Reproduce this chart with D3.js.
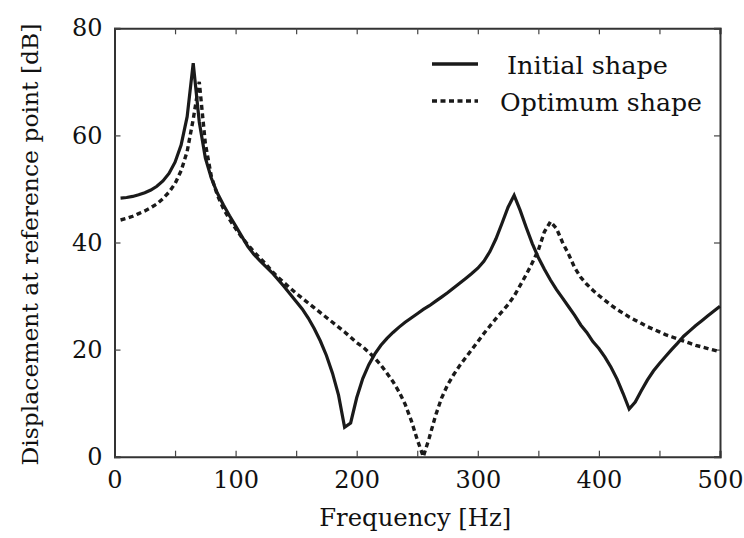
<!DOCTYPE html>
<html lang="en">
<head>
  <meta charset="UTF-8">
  <title>Displacement vs frequency</title>
  <script src="https://d3js.org/d3.v7.min.js"></script>
  <style>
    body { margin: 0; background: #fff; }
  </style>
</head>
<body>
  <svg width="744" height="538"></svg>

  <script>
    // frequency samples (Hz), 5 Hz step
    const freq = d3.range(5, 501, 5);

    const initialShape = [
      48.3, 48.4, 48.6, 48.9, 49.3, 49.8, 50.5, 51.5, 52.9, 55.0,
      58.2, 63.5, 73.5, 62.5, 55.8, 52.0, 49.2, 47.0, 45.0, 43.1,
      41.2, 39.3, 37.8, 36.6, 35.5, 34.4, 33.1, 31.8, 30.4, 29.0,
      27.6, 25.9, 23.9, 21.6, 18.9, 15.6, 11.5, 5.5, 6.3, 11.0,
      14.6, 17.2, 19.2, 20.8, 22.1, 23.2, 24.2, 25.1, 25.9, 26.7,
      27.5, 28.2, 29.0, 29.8, 30.6, 31.5, 32.4, 33.3, 34.2, 35.2,
      36.5, 38.3, 40.7, 43.6, 46.6, 48.8, 46.0, 42.8, 39.8, 37.2,
      35.0, 33.0, 31.2, 29.6, 28.0, 26.4, 24.6, 23.2, 21.5, 20.2,
      18.6, 16.7, 14.5, 11.8, 8.9, 10.2, 12.3, 14.3, 16.0, 17.4,
      18.7, 20.0, 21.2, 22.5, 23.5, 24.5, 25.4, 26.3, 27.2, 28.1
    ];

    const optimumShape = [
      44.2, 44.5, 44.9, 45.4, 45.9, 46.5, 47.2, 48.2, 49.4, 51.0,
      53.4, 57.0, 63.0, 70.0, 58.5, 52.3, 48.8, 46.3, 44.3, 42.6,
      41.0, 39.6, 38.3, 37.1, 36.0, 34.6, 33.5, 32.5, 31.5, 30.5,
      29.6, 28.7, 27.8, 26.9, 26.0, 25.1, 24.2, 23.3, 22.3, 21.3,
      20.5, 19.5, 18.4, 17.1, 15.6, 14.0, 12.1, 9.8, 6.8, 3.2,
      0.0, 3.6, 7.6, 10.9, 13.4, 15.3, 17.0, 18.5, 20.0, 21.5,
      23.0, 24.4, 25.8, 27.1, 28.4, 30.0, 32.0, 34.0, 36.2, 38.6,
      42.0, 43.9, 42.6, 40.0, 37.8, 35.3, 33.5, 32.2, 31.1, 30.1,
      29.2, 28.3, 27.5, 26.8, 26.1, 25.5, 24.9, 24.3, 23.8, 23.3,
      22.8, 22.4, 22.0, 21.6, 21.2, 20.8, 20.5, 20.2, 19.9, 19.6
    ];

    const xTicks = [0, 100, 200, 300, 400, 500];
    const xMinorTicks = [50, 150, 250, 350, 450];
    const yTicks = [0, 20, 40, 60, 80];

    const legendLabels = ["Initial shape", "Optimum shape"];

    const serif = "DejaVu Serif";

    const svg = d3.select("svg").style("font-family", serif);
    const margin = { left: 114.5, top: 28.3, right: 24, bottom: 81.3 };
    const width = 744 - margin.left - margin.right,
          height = 538 - margin.top - margin.bottom;

    const g = svg.append("g")
      .attr("transform", `translate(${margin.left},${margin.top})`);

    const x = d3.scaleLinear().domain([0, 500]).range([0, width]);
    const y = d3.scaleLinear().domain([0, 80]).range([height, 0]);

    const allXTicks = xTicks.concat(xMinorTicks);

    // axes: ticks inward, box on all sides
    const frame = g.append("g").attr("class", "frame");

    frame.append("g")
      .attr("transform", `translate(0,${height})`)
      .call(d3.axisBottom(x).tickValues(allXTicks).tickSize(-6).tickPadding(14)
        .tickFormat(d => xTicks.includes(d) ? d : ""));

    frame.append("g")
      .call(d3.axisTop(x).tickValues(allXTicks).tickSize(-6).tickFormat(""));

    frame.append("g")
      .call(d3.axisLeft(y).tickValues(yTicks).tickSize(-6).tickPadding(12));

    frame.append("g")
      .attr("transform", `translate(${width},0)`)
      .call(d3.axisRight(y).tickValues(yTicks).tickSize(-6).tickFormat(""));

    frame.selectAll("g").attr("font-family", null).attr("font-size", null);
    frame.selectAll(".tick text")
      .style("font-family", serif).style("font-size", "24px")
      .attr("fill", "#111");
    frame.selectAll(".tick line").attr("stroke", "#444").attr("stroke-width", 1.2);
    frame.selectAll(".domain").attr("stroke", "#333").attr("stroke-width", 2);

    const line = d3.line()
      .x((d, i) => x(freq[i]))
      .y(d => y(d));

    g.append("path")
      .datum(initialShape)
      .attr("fill", "none")
      .attr("stroke", "#1a1a1a")
      .attr("stroke-width", 3.2)
      .attr("d", line);

    g.append("path")
      .datum(optimumShape)
      .attr("fill", "none")
      .attr("stroke", "#1a1a1a")
      .attr("stroke-width", 3.4)
      .attr("stroke-dasharray", "5,3.5")
      .attr("d", line);

    // legend
    const legend = svg.append("g");
    const rows = [
      { label: legendLabels[0], y: 64, dash: null, tx: 507, len: 161 },
      { label: legendLabels[1], y: 101, dash: "5,3.5", tx: 500, len: 202 }
    ];
    rows.forEach(r => {
      legend.append("line")
        .attr("x1", 432).attr("x2", 478)
        .attr("y1", r.y).attr("y2", r.y)
        .attr("stroke", "#1a1a1a")
        .attr("stroke-width", 3.4)
        .attr("stroke-dasharray", r.dash);
      legend.append("text")
        .attr("x", r.tx).attr("y", r.y + 10)
        .style("font-family", serif)
        .style("font-size", "24px")
        .attr("fill", "#111")
        .attr("textLength", r.len)
        .attr("lengthAdjust", "spacingAndGlyphs")
        .text(r.label);
    });

    // axis titles
    svg.append("text")
      .attr("x", margin.left + width / 2 - 2)
      .attr("y", 526)
      .attr("text-anchor", "middle")
      .style("font-family", serif)
      .style("font-size", "24px")
      .attr("fill", "#111")
      .attr("textLength", 192)
      .attr("lengthAdjust", "spacingAndGlyphs")
      .text("Frequency [Hz]");

    svg.append("text")
      .attr("transform", `translate(38,${margin.top + height / 2 + 2}) rotate(-90)`)
      .attr("text-anchor", "middle")
      .style("font-family", serif)
      .style("font-size", "23px")
      .attr("fill", "#111")
      .attr("textLength", 442)
      .attr("lengthAdjust", "spacingAndGlyphs")
      .text("Displacement at reference point [dB]");
  </script>
</body>
</html>
